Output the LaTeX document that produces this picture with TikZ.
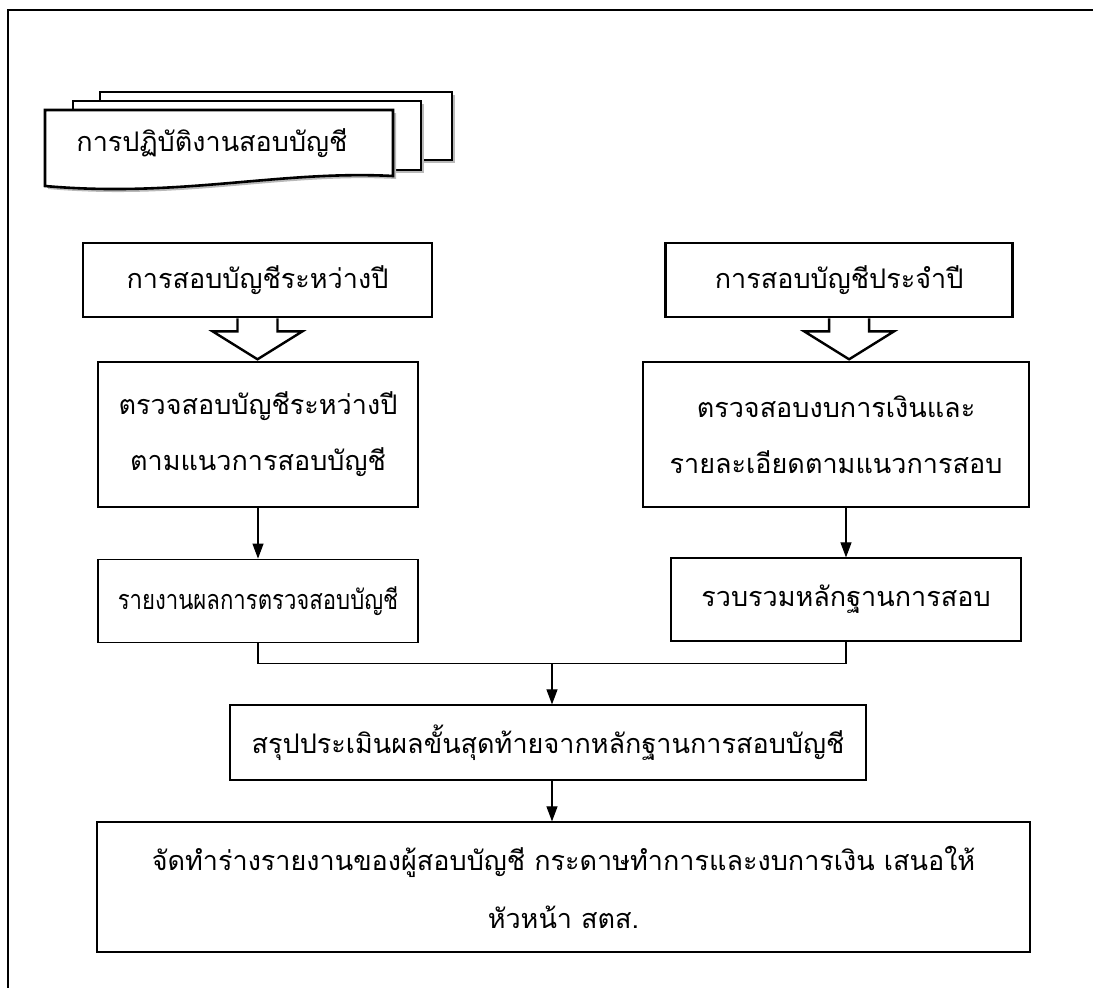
\documentclass[tikz,border=0pt]{standalone}
\usepackage{fontspec}
\newfontfamily\thaifont[Script=Thai]{Loma}
\newfontfamily\thainarrow[Script=Thai,FakeStretch=0.82]{Loma}
\usetikzlibrary{positioning,calc,arrows.meta}

\begin{document}
\begin{tikzpicture}[x=1pt,y=-1pt,
				every node/.style={font=\thaifont\fontsize{27}{56}\selectfont,align=center},
				narrow/.style={font=\thainarrow\fontsize{27}{56}\selectfont},
				plain/.style={draw,line width=1.2pt,rectangle,inner sep=0pt,fill=white},
				heavy/.style={draw,line width=2.6pt,rectangle,inner sep=0pt,fill=white},
				page/.style={draw,line width=2.6pt,fill=white,line join=miter},
				shade/.style={fill=gray!55},
				flow/.style={-{Triangle[length=15pt,width=11pt]},line width=1.1pt}]
				\useasboundingbox (0,0) rectangle (1093,988);
				\draw[line width=2.4pt] (8,988) |- (1093,10);
				% pile of pages
				\foreach \l/\t/\r/\b in {100/92/452/160, 73/101/421/170} {
					\path[shade] (\l+3,\t+3) rectangle (\r+3,\b+3);
					\path[page] (\l,\t) rectangle (\r,\b);
				}
				\path[shade] (48,189) -- (48,113) -- (396,113) -- (396,179) .. controls (283,173) and (183,201) .. cycle;
				\path[page] (45,186) -- (45,110) -- (393,110) -- (393,176) .. controls (280,170) and (180,198) .. cycle;
				\node (doc) at (212,143) {การปฏิบัติงานสอบบัญชี};

				\node[heavy,minimum width=349pt,minimum height=74pt] (midyear) at (257.5,280) {การสอบบัญชีระหว่างปี};
				\node[heavy,minimum width=347pt,minimum height=74pt,right=231pt of midyear] (annual) {การสอบบัญชีประจำปี};
				\foreach \n/\s in {midyear/0, annual/10} {
					\draw[line width=2.4pt,line join=miter] ([xshift=\s pt-20pt]\n.south) -- ++(0,13) -- ++(-25,0)
						-- ++(45,28) -- ++(45,-28) -- ++(-25,0) -- ++(0,-13);
				}

				\node[plain,minimum width=320pt,minimum height=145pt] (chkL) at (258,434.5) {ตรวจสอบบัญชีระหว่างปี\\ตามแนวการสอบบัญชี};
				\node[plain,minimum width=386pt,minimum height=145pt] (chkR) at (836,434.5) {ตรวจสอบงบการเงินและ\\รายละเอียดตามแนวการสอบ};
				\node[plain,narrow,minimum width=320pt,minimum height=83pt,below=51pt of chkL] (repL) {รายงานผลการตรวจสอบบัญชี};
				\node[plain,minimum width=350pt,minimum height=83pt] (repR) at (846,599.5) {รวบรวมหลักฐานการสอบ};
				\coordinate (join) at ($(repL.south)!0.5!(repR.south)+(0,21)$);
				\node[plain,minimum width=636pt,minimum height=75pt] (eval) at (548,742.5) {สรุปประเมินผลขั้นสุดท้ายจากหลักฐานการสอบบัญชี};
				\node[plain,minimum width=933pt,minimum height=130pt,font=\thaifont\fontsize{27}{58}\selectfont] (final) at (563.5,887) {จัดทำร่างรายงานของผู้สอบบัญชี กระดาษทำการและงบการเงิน เสนอให้\\หัวหน้า สตส.};

				\draw[flow] (chkL) -- (repL);
				\draw[flow] (repR.north |- chkR.south) -- (repR.north);
				\draw[line width=1.1pt] (repL.south) |- (join) -| (repR.south);
				\draw[flow] (join) -- (join |- eval.north);
				\draw[flow] (join |- eval.south) -- (join |- final.north);
			\end{tikzpicture}
\end{document}
